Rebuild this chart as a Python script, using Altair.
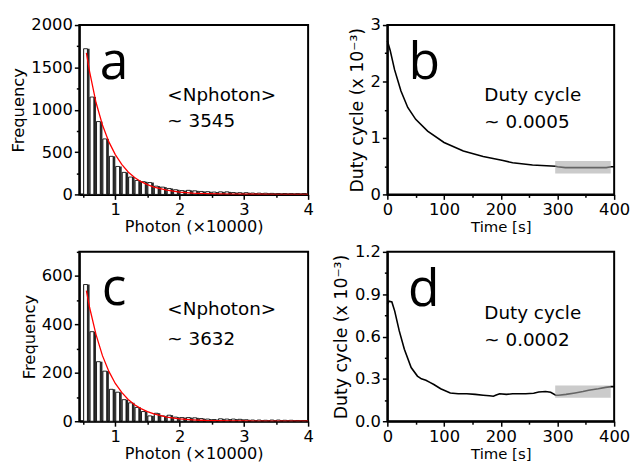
import altair as alt
import pandas as pd

# ---------------- data ----------------
bin_start = [0.5, 0.6, 0.7, 0.8, 0.9, 1.0, 1.1, 1.2, 1.3, 1.4, 1.5, 1.6, 1.7, 1.8,
             1.9, 2.0, 2.1, 2.2, 2.3, 2.4, 2.5, 2.6, 2.7, 2.8, 2.9, 3.0, 3.1, 3.2,
             3.3, 3.4, 3.5, 3.6, 3.7, 3.8, 3.9]
counts_a = [1720, 1150, 860, 655, 450, 330, 260, 205, 165, 150, 140, 98, 86, 70,
            55, 45, 48, 42, 35, 32, 28, 30, 30, 22, 20, 20, 16, 15, 14, 12, 10,
            10, 9, 9, 10]
counts_c = [565, 370, 246, 207, 132, 120, 89, 76, 57, 40, 22, 33, 22, 25, 17, 15,
            15, 14, 11, 9, 7, 10, 9, 9, 8, 6, 5, 5, 4, 5, 5, 4, 4, 3, 3]

fit_x = [0.55, 0.6, 0.7, 0.8, 0.9, 1.0, 1.1, 1.2, 1.3, 1.4, 1.5, 1.6, 1.8, 2.0,
         2.2, 2.4, 2.6, 2.8, 3.0, 3.5, 4.0]
fit_a = [1670, 1450, 1085, 820, 620, 470, 355, 265, 200, 150, 115, 87, 50, 28,
         16, 9, 5, 3, 2, 1, 0]
fit_c = [540, 470, 358, 271, 206, 156, 119, 90, 68, 52, 40, 30, 17, 10, 6, 3, 2,
         1, 1, 0, 0]

time_b = [0, 5, 12.7, 24, 36, 50, 71, 100, 134, 169, 204, 221, 256, 297, 300,
          314, 350, 386, 395, 400]
duty_b = [2.72, 2.55, 2.21, 1.83, 1.54, 1.33, 1.12, 0.92, 0.77, 0.67, 0.60,
          0.56, 0.52, 0.50, 0.49, 0.475, 0.475, 0.475, 0.49, 0.49]

time_d = [0, 3, 8, 13, 21, 30, 42, 53, 60, 68, 75, 82, 94, 111, 125, 140, 155,
          169, 180, 187, 192, 198, 210, 221, 244, 258, 267, 279, 288, 297, 302,
          315, 331, 345, 355, 372, 385, 395, 400]
duty_d = [0.83, 0.85, 0.845, 0.78, 0.64, 0.51, 0.38, 0.32, 0.30, 0.29, 0.275,
          0.26, 0.23, 0.20, 0.195, 0.195, 0.19, 0.184, 0.18, 0.177, 0.185, 0.195,
          0.19, 0.195, 0.195, 0.198, 0.207, 0.21, 0.205, 0.184, 0.184, 0.19,
          0.20, 0.21, 0.22, 0.23, 0.24, 0.245, 0.245]

shade_b = [296, 394, 0.37, 0.59]
shade_d = [296, 394, 0.166, 0.253]

letters = ["a", "b", "c", "d"]
notes_a = ["<Nphoton>", "~ 3545"]
notes_b = ["Duty cycle", "~ 0.0005"]
notes_c = ["<Nphoton>", "~ 3632"]
notes_d = ["Duty cycle", "~ 0.0002"]

AX_FONT = "DejaVu Sans"
NOTE_FONT = "DejaVu Sans"
LETTER_FONT = "Open Sans"


def axis(values, major, label, title, title_size, title_pad):
    return alt.Axis(
        values=values,
        labelExpr=f"({major}) ? {label} : ''",
        tickSize={"condition": {"test": major, "value": 5}, "value": 3},
        title=title, titleFontSize=title_size, titlePadding=title_pad,
        labelOverlap=False, labelFlush=False, labelPadding=2,
    )


def hist_panel(counts, fit, ymax, ystep, letter, notes, letter_pos, note_pos):
    df = pd.DataFrame({"lo": bin_start, "count": counts})
    xs = alt.Scale(domain=[0.44, 4], nice=False, zero=False)
    ys = alt.Scale(domain=[0, ymax], nice=False)
    xvals = [0.5, 1, 1.5, 2, 2.5, 3, 3.5, 4]
    yvals = [v * ystep / 2 for v in range(int(ymax / (ystep / 2)) + 1)]
    xax = axis(xvals, "abs(datum.value - round(datum.value)) < 0.001",
               "format(datum.value, 'd')", "Photon (\u00d710000)", 16.3, 1)
    yax = axis(yvals, f"datum.value % {ystep} == 0",
               "format(datum.value, 'd')", "Frequency", 16.5, 4)
    X = lambda f: alt.X(f, type="quantitative", scale=xs, axis=xax)
    Y = lambda f: alt.Y(f, type="quantitative", scale=ys, axis=yax)

    base = alt.Chart(df).transform_calculate(
        hi="datum.lo + 0.1", wlo="datum.lo + 0.008", whi="datum.lo + 0.066", zero="0")
    dark = base.mark_rect(color="#2b2b2b").encode(
        x=X("lo"), x2="hi:Q", y=Y("count"), y2="zero:Q")
    white = base.mark_rect(fill="white", stroke="black", strokeWidth=0.8).encode(
        x=X("wlo"), x2="whi:Q", y=Y("count"), y2="zero:Q")
    fitline = alt.Chart(pd.DataFrame({"fx": fit_x, "fy": fit})).mark_line(
        color="#ff0000", strokeWidth=1.3, clip=True).encode(x=X("fx"), y=Y("fy"))
    lt = alt.Chart(pd.DataFrame({"x": [letter_pos[0]], "y": [letter_pos[1]], "t": [letter]})).mark_text(
        font=LETTER_FONT, fontSize=52, align="center", baseline="alphabetic", color="black"
    ).encode(x=X("x"), y=Y("y"), text="t:N")
    nt = alt.Chart(pd.DataFrame({"x": [note_pos[0]] * 2, "y": note_pos[1:], "t": notes})).mark_text(
        font=NOTE_FONT, fontSize=18.5, align="left", baseline="alphabetic", color="black"
    ).encode(x=X("x"), y=Y("y"), text="t:N")
    return alt.layer(dark, white, fitline, lt, nt).properties(width=231, height=171)


def duty_panel(ts, ds, ymax, ystep, yfmt, shade, letter, notes, letter_pos, note_pos, h):
    xs = alt.Scale(domain=[0, 400], nice=False)
    ys = alt.Scale(domain=[0, ymax], nice=False)
    xvals = list(range(0, 401, 50))
    nminor = int(round(ymax / (ystep / 2)))
    yvals = [round(i * ystep / 2, 4) for i in range(nminor + 1)]
    xax = axis(xvals, "datum.value % 100 == 0", "format(datum.value, 'd')", "Time [s]", 15, 2)
    yax = axis(yvals, f"abs(datum.value / {ystep} - round(datum.value / {ystep})) < 0.001",
               f"format(datum.value, '{yfmt}')", "Duty cycle (x 10\u207b\u00b3)", 17.5, 4)
    X = lambda f: alt.X(f, type="quantitative", scale=xs, axis=xax)
    Y = lambda f: alt.Y(f, type="quantitative", scale=ys, axis=yax)

    line = alt.Chart(pd.DataFrame({"t": ts, "d": ds})).mark_line(
        color="black", strokeWidth=1.6).encode(x=X("t"), y=Y("d"))
    sh = alt.Chart(pd.DataFrame({"x1": [shade[0]], "x2": [shade[1]], "y1": [shade[2]], "y2": [shade[3]]})).mark_rect(
        color="#a8a8a8", opacity=0.6).encode(x=X("x1"), x2="x2:Q", y=Y("y1"), y2="y2:Q")
    lt = alt.Chart(pd.DataFrame({"x": [letter_pos[0]], "y": [letter_pos[1]], "t": [letter]})).mark_text(
        font=LETTER_FONT, fontSize=52, align="center", baseline="alphabetic", color="black"
    ).encode(x=X("x"), y=Y("y"), text="t:N")
    nt = alt.Chart(pd.DataFrame({"x": [note_pos[0]] * 2, "y": note_pos[1:], "t": notes})).mark_text(
        font=NOTE_FONT, fontSize=18.5, align="left", baseline="alphabetic", color="black"
    ).encode(x=X("x"), y=Y("y"), text="t:N")
    return alt.layer(line, sh, lt, nt).properties(width=229, height=h)


pa = hist_panel(counts_a, fit_a, 2000, 500, letters[0], notes_a, (0.98, 1357), (1.81, 1103, 792))
pc = hist_panel(counts_c, fit_c, 700, 200, letters[2], notes_c, (0.98, 479), (1.81, 439, 314))
pb = duty_panel(time_b, duty_b, 3, 1, "d", shade_b, letters[1], notes_b, (65, 2.05), (171, 1.65, 1.18), 171)
pd_ = duty_panel(time_d, duty_d, 1.2, 0.3, ".1f", shade_d, letters[3], notes_d, (64, 0.816), (171, 0.724, 0.533), 171)

chart = alt.concat(pa, pb, pc, pd_, columns=2, spacing={"row": 58, "column": 80},
                   bounds="flush").properties(
    padding={"left": 2, "top": 6, "right": 0, "bottom": 0}
).configure(
    background="white"
).configure_view(
    stroke="black", strokeWidth=2
).configure_axis(
    labelFont=AX_FONT, labelFontSize=16.5, labelColor="black",
    titleFont=AX_FONT, titleColor="black", titleFontWeight="normal",
    domainColor="black", domainWidth=2, tickColor="black", tickWidth=1.5, grid=False,
)

chart.save("out.html", embed_options={"renderer": "svg", "actions": False})
